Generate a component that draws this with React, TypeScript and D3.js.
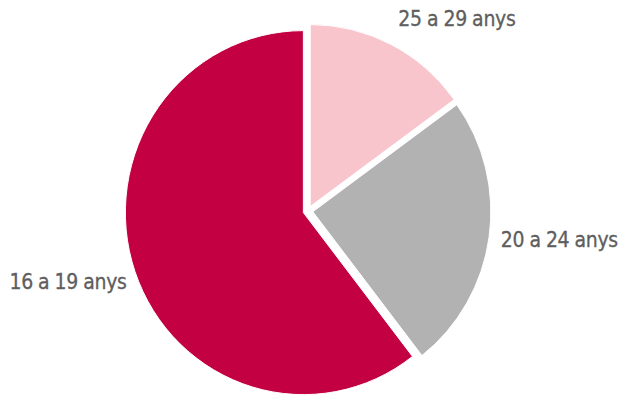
import React, { useRef, useEffect } from 'react';
import * as d3 from 'd3';

// age groups and their shares (%)
const categories = ['25 a 29 anys', '20 a 24 anys', '16 a 19 anys'];
const shares = [15, 24.5, 60.5];
const colors = ['#f8c5cc', '#b2b2b2', '#c20042'];

const W = 626;
const H = 400;

const App = () => {
  const svgRef = useRef<SVGSVGElement>(null);

  useEffect(() => {
    const svg = d3.select(svgRef.current)
      .attr('width', W)
      .attr('height', H)
      .style('display', 'block');
    svg.selectAll('*').remove();

    const cx = 308;
    const cy = 211;
    const r = 182;
    const explode = 5;

    const pie = d3.pie<number>().sort(null).value(d => d);
    const arc = d3.arc<d3.PieArcDatum<number>>().innerRadius(0).outerRadius(r);
    const arcs = pie(shares);

    // slight horizontal squeeze as in the original image
    const g = svg.append('g')
      .attr('transform', `translate(${cx},${cy}) scale(0.978,1)`);

    g.selectAll('path')
      .data(arcs)
      .enter()
      .append('path')
      .attr('d', arc)
      .attr('fill', (d, i) => colors[i])
      .attr('stroke', '#fff')
      .attr('stroke-width', 1)
      .attr('transform', d => {
        const mid = (d.startAngle + d.endAngle) / 2;
        return `translate(${Math.sin(mid) * explode},${-Math.cos(mid) * explode})`;
      });

    // label placement (angle in degrees from top, distance from centre)
    const labelPos = [
      { a: 37.8, dist: 243 },
      { a: 96.5, dist: 253 },
      { a: 253.7, dist: 250 },
    ];

    svg.selectAll('text')
      .data(categories)
      .enter()
      .append('text')
      .attr('x', (d, i) => cx + Math.sin(labelPos[i].a * Math.PI / 180) * labelPos[i].dist)
      .attr('y', (d, i) => cy - Math.cos(labelPos[i].a * Math.PI / 180) * labelPos[i].dist)
      .attr('dy', '0.35em')
      .attr('text-anchor', 'middle')
      .attr('font-family', '"DejaVu Sans Condensed", "DejaVu Sans", sans-serif')
      .attr('font-size', 21)
      .attr('letter-spacing', -0.3)
      .attr('word-spacing', -0.5)
      .attr('stroke', '#5e5e5e')
      .attr('stroke-width', 0.3)
      .attr('fill', '#5e5e5e')
      .text(d => d);
  }, []);

  return (
    <div style={{ position: 'absolute', left: 0, top: 0 }}>
      <svg ref={svgRef}></svg>
    </div>
  );
};

export default App;
